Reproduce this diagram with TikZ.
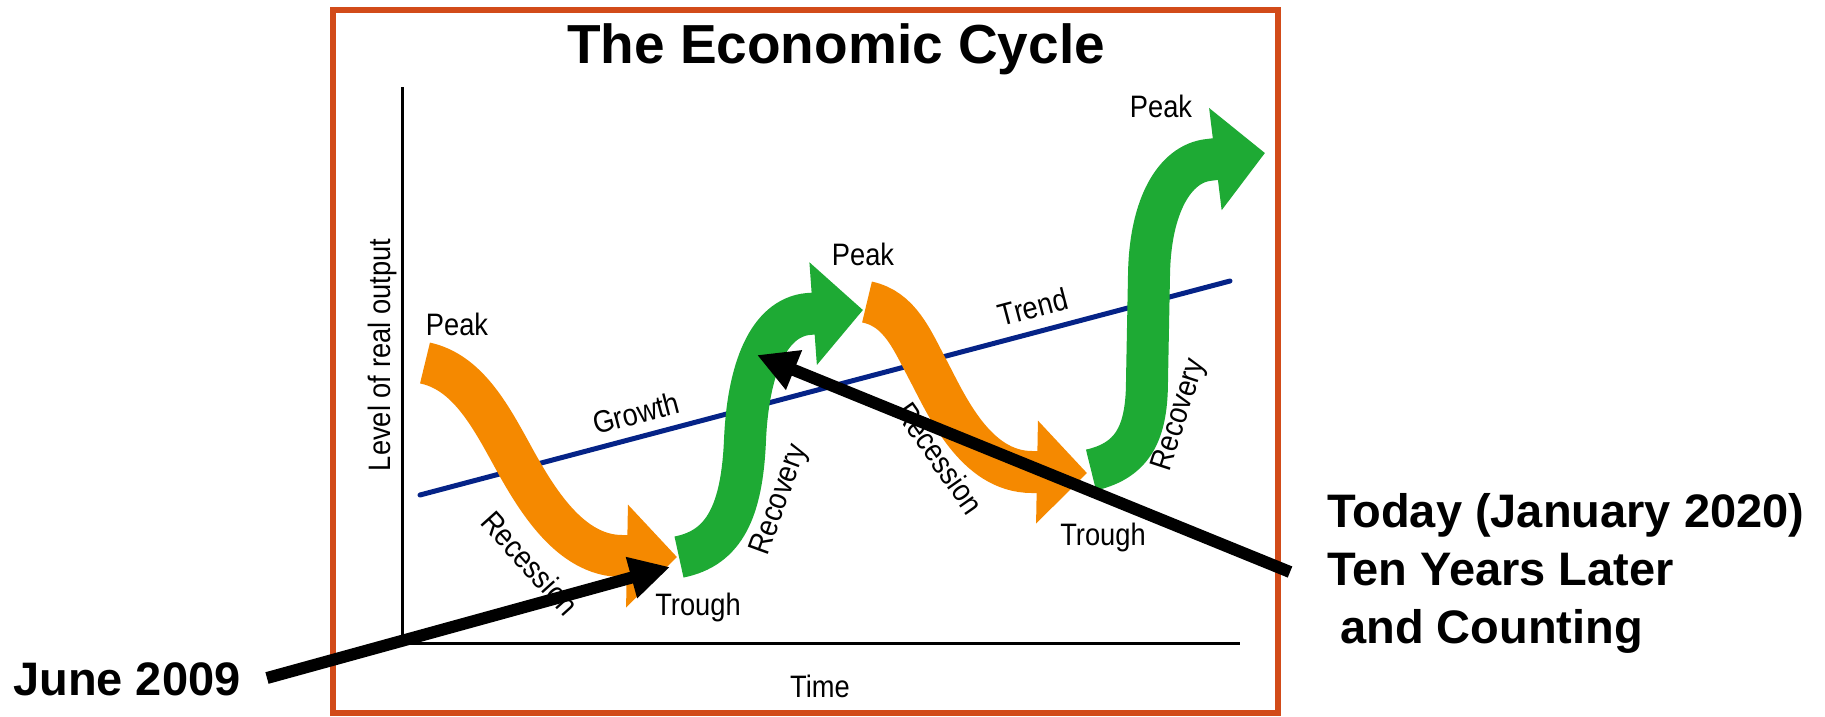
\documentclass[tikz,border=0pt]{standalone}
\usepackage{fontspec}
\setmainfont{Liberation Sans}
\newfontfamily\condf[FakeStretch=0.88]{Liberation Sans}
\usetikzlibrary{arrows.meta}
\definecolor{cyorange}{RGB}{245,137,0}
\definecolor{cygreen}{RGB}{30,170,52}
\definecolor{cynavy}{RGB}{5,35,135}
\definecolor{cyframe}{RGB}{210,75,25}
\begin{document}
\begin{tikzpicture}[x=1pt,y=-1pt,
  lbl/.style={font=\condf\fontsize{31}{36}\selectfont, inner sep=0pt},
  callout/.style={font=\bfseries\fontsize{47}{58}\selectfont, inner sep=0pt, anchor=base west},
  bigarrow/.style={line width=42pt, -{Triangle[length=50pt,width=100pt]}},
  pointer/.style={line width=12pt, -{Triangle[length=40pt,width=40pt]}},
  axisline/.style={line width=3pt, black},
  trendline/.style={line width=5pt, cynavy, line cap=round},
  frameline/.style={line width=6pt, cyframe}]
\useasboundingbox (0,0) rectangle (1825,716);
% frame
\draw[frameline] (333,10) rectangle (1278,713);
% title
\node[font=\bfseries\fontsize{55}{66}\selectfont, inner sep=0pt, anchor=base] (title) at (836,63) {The Economic Cycle};
% axes
\coordinate (ytop) at (402,87);
\coordinate (origin) at (402,643);
\coordinate (xend) at (1240,643);
\draw[axisline] (ytop) -- (origin) -- (xend);
% trend line
\coordinate (tstart) at (420,495);
\coordinate (tend) at (1230,281);
\draw[trendline] (tstart) -- (tend);
% big arrows
\draw[bigarrow, cyorange] (425,363) .. controls (467,372) and (490,415) .. (512,455)
   .. controls (536,499) and (570,556) .. (622,556) -- (677,557);
\draw[bigarrow, cygreen] (679,557) .. controls (725,548) and (742,510) .. (745,440)
   .. controls (748,370) and (768,318) .. (808,314) -- (863,310);
\draw[bigarrow, cyorange] (867,302) .. controls (900,309) and (912,340) .. (928,370)
   .. controls (946,404) and (975,472) .. (1032,472) -- (1087,473);
\draw[bigarrow, cygreen] (1091,470) .. controls (1135,460) and (1147,430) .. (1147,380)
   -- (1149,275) .. controls (1150,205) and (1175,164) .. (1208,160) -- (1265,153);
% labels
\node[lbl, anchor=base] (peak1) at (457,335) {Peak};
\node[lbl, anchor=base] (peak2) at (863,265) {Peak};
\node[lbl, anchor=base] (peak3) at (1161,117) {Peak};
\node[lbl, anchor=base] (trough1) at (698,615) {Trough};
\node[lbl, anchor=base] (trough2) at (1103,545) {Trough};
\node[lbl, anchor=base] (time) at (820,697) {Time};
\node[lbl, rotate=14.8] (growth) at (636,413) {Growth};
\node[lbl, rotate=14.8] (trend) at (1033,307) {Trend};
\node[lbl, rotate=-48] (rec1) at (530,563) {Recession};
\node[lbl, rotate=-55] (rec2) at (940,458) {Recession};
\node[lbl, rotate=70] (recov1) at (780,500) {Recovery};
\node[lbl, rotate=72] (recov2) at (1180,415) {Recovery};
\node[lbl, rotate=90] (ylabel) at (382,355) {Level of real output};
% callouts
\node[callout] (june) at (13,695) {June 2009};
\node[callout] (today1) at (1327,527) {Today (January 2020)};
\node[callout] (today2) at (1327,585) {Ten Years Later};
\node[callout] (today3) at (1327,643) {\ and Counting};
% pointers
\coordinate (jtail) at (267,678);
\coordinate (jtip) at (670,567);
\coordinate (ttail) at (1290,572);
\coordinate (ttip) at (757,355);
\draw[pointer] (jtail) -- (jtip);
\draw[pointer] (ttail) -- (ttip);
\end{tikzpicture}
\end{document}
